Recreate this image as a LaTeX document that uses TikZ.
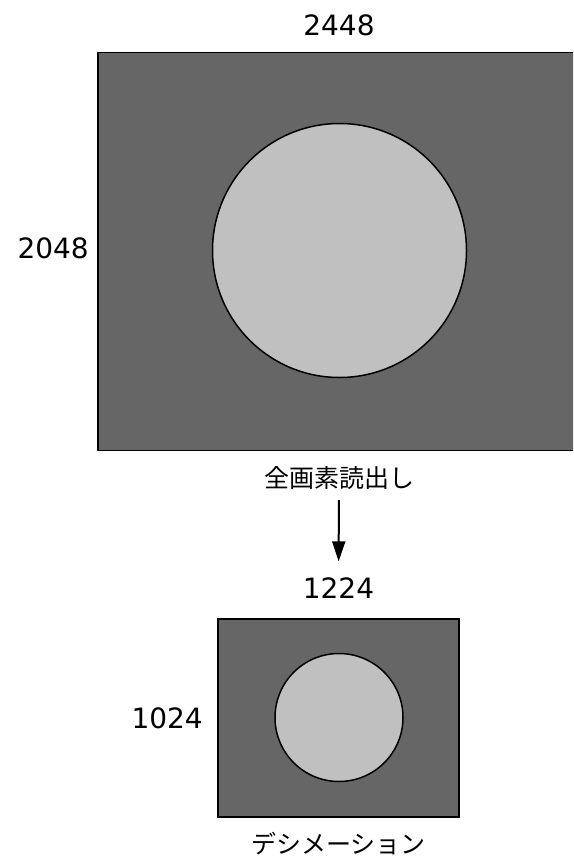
\documentclass[tikz,border=0pt]{standalone}
\usepackage{fontspec}
\setmainfont{DejaVu Sans}
\newfontfamily\jpfont{Noto Sans CJK JP}
\usepackage{tikz}
\usetikzlibrary{positioning,arrows.meta}

\definecolor{sensorgray}{HTML}{666666}
\definecolor{spotgray}{HTML}{C0C0C0}

\begin{document}
\begin{tikzpicture}[x=1pt, y=-1pt,
    sensor/.style={draw=black, line width=1.5pt, fill=sensorgray, inner sep=0pt, outer sep=0pt},
    spot/.style={circle, draw=black, line width=1.5pt, fill=spotgray, inner sep=0pt},
    dimlabel/.style={font=\fontsize{28}{30}\selectfont, inner sep=0pt},
    steplabel/.style={font=\jpfont\fontsize{25}{27}\selectfont, inner sep=0pt}]
        \clip (0,0) rectangle (573,856);

        % Full readout frame
        \node[sensor, minimum width=482pt, minimum height=398pt] (full) at (339,251.7) {};
        \node[spot, minimum size=254pt] (fullspot) at (339.5,250.5) {};
        \node[dimlabel, above=16.5pt of full] (fullw) {2448};
        \node[dimlabel, left=9pt of full, yshift=3.5pt] (fullh) {2048};
        \node[steplabel, below=16pt of full] (readall) {全画素読出し};

        % Decimated frame
        \node[sensor, minimum width=241pt, minimum height=198pt] (small) at (338.5,718) {};
        \node[spot, minimum size=128pt] (smallspot) at (339,717.5) {};
        \node[dimlabel, above=20.5pt of small] (smallw) {1224};
        \node[dimlabel, left=15pt of small] (smallh) {1024};
        \node[steplabel, below=15pt of small] (decim) {デシメーション};

        % Readout to decimation
        \draw[line width=2pt, -{Triangle[length=20pt,width=13pt]},
              shorten <=10pt, shorten >=16pt] (readall) -- (smallw);

    \end{tikzpicture}
\end{document}
